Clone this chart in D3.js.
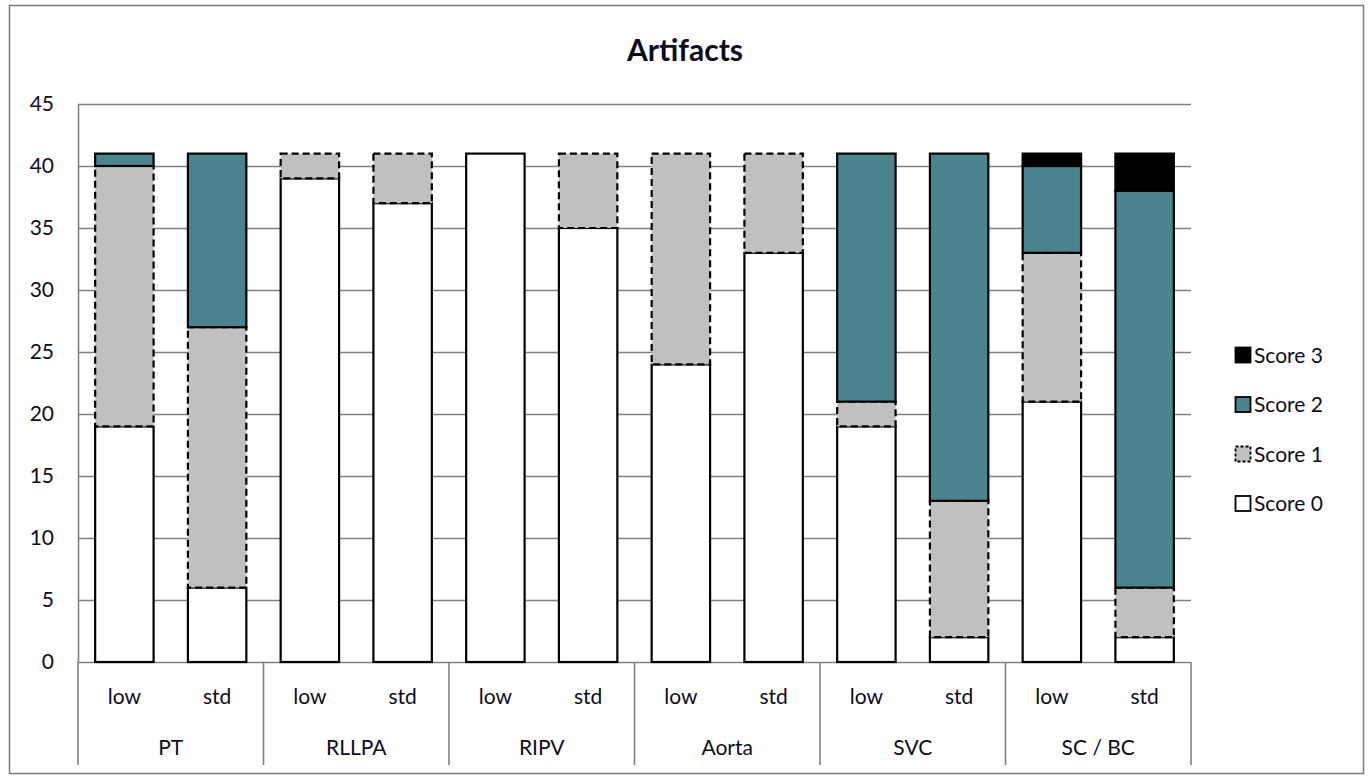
<!DOCTYPE html>
<html>
<head>
<meta charset="utf-8">
<script src="https://cdn.jsdelivr.net/npm/d3@7"></script>
<style>
  html, body { margin: 0; padding: 0; background: #fff; }
  svg { display: block; font-family: Lato, "Open Sans", sans-serif; }
</style>
</head>
<body>
<svg id="chart" width="1371" height="778"></svg>
<script>
// Regions and protocols (low dose vs. standard)
const groups = ["PT", "RLLPA", "RIPV", "Aorta", "SVC", "SC / BC"];
const protocols = ["low", "std"];
const seriesNames = ["Score 0", "Score 1", "Score 2", "Score 3"];

// Number of cases per artifact score, one entry per bar (group × protocol)
const score0 = [19, 6, 39, 37, 41, 35, 24, 33, 19, 2, 21, 2];
const score1 = [21, 21, 2, 4, 0, 6, 17, 8, 2, 11, 12, 4];
const score2 = [1, 14, 0, 0, 0, 0, 0, 0, 20, 28, 7, 32];
const score3 = [0, 0, 0, 0, 0, 0, 0, 0, 0, 0, 1, 3];

const yTicks = [0, 5, 10, 15, 20, 25, 30, 35, 40, 45];

const svg = d3.select("#chart");
const plot = { left: 78, right: 1191, top: 104, bottom: 662 };
const catBottom = 765;
const textColor = "#0d0d1a";
const gridColor = "#808080";

const styles = {
  "Score 0": { fill: "#ffffff", dash: null },
  "Score 1": { fill: "#c0c0c0", dash: "7,4" },
  "Score 2": { fill: "#4a848f", dash: null },
  "Score 3": { fill: "#000000", dash: null }
};

// Rows for the stack layout
const bars = [];
groups.forEach((g, gi) => protocols.forEach((p, pi) => {
  const i = gi * protocols.length + pi;
  bars.push({ key: g + "|" + p, group: g, protocol: p,
    "Score 0": score0[i], "Score 1": score1[i], "Score 2": score2[i], "Score 3": score3[i] });
}));

const x = d3.scaleBand()
  .domain(bars.map(d => d.key))
  .range([plot.left, plot.right])
  .paddingInner(0.37)
  .paddingOuter(0.185);

const y = d3.scaleLinear().domain([0, 45]).range([plot.bottom, plot.top]);

// Outer frame
svg.append("rect")
  .attr("x", 9.5).attr("y", 5.5)
  .attr("width", 1354).attr("height", 768)
  .attr("fill", "#fff").attr("stroke", "#7a7a7a").attr("stroke-width", 1.5);

// Title
svg.append("text")
  .attr("x", 685).attr("y", 61)
  .attr("text-anchor", "middle")
  .attr("font-size", 30).attr("font-weight", 700)
  .attr("fill", textColor)
  .text("Artifacts");

// Horizontal gridlines
svg.append("g")
  .selectAll("line")
  .data(yTicks)
  .join("line")
  .attr("x1", plot.left).attr("x2", plot.right)
  .attr("y1", d => Math.round(y(d)) + 0.5).attr("y2", d => Math.round(y(d)) + 0.5)
  .attr("stroke", gridColor).attr("stroke-width", 1.6);

// Value axis
const yAxis = svg.append("g")
  .attr("transform", `translate(${plot.left},0)`)
  .call(d3.axisLeft(y).tickValues(yTicks).tickSize(0).tickPadding(24));
yAxis.select(".domain").attr("stroke", gridColor).attr("stroke-width", 1.6);
yAxis.selectAll("text")
  .attr("font-size", 21).attr("fill", textColor)
  .attr("font-family", "Lato, 'Open Sans', sans-serif");

// Stacked bars
const stack = d3.stack().keys(seriesNames)(bars);
const layers = svg.append("g").selectAll("g")
  .data(stack)
  .join("g");

layers.selectAll("rect")
  .data(s => s.map(d => ({ key: s.key, d })).filter(e => e.d[1] - e.d[0] > 0))
  .join("rect")
  .attr("x", e => x(e.d.data.key))
  .attr("width", x.bandwidth())
  .attr("y", e => y(e.d[1]))
  .attr("height", e => y(e.d[0]) - y(e.d[1]))
  .attr("fill", e => styles[e.key].fill)
  .attr("stroke", "#000")
  .attr("stroke-width", 2.2)
  .attr("stroke-dasharray", e => styles[e.key].dash);

// Category axis: protocol labels, group labels, and group separators
const groupWidth = (plot.right - plot.left) / groups.length;

const sepX = d3.range(groups.length + 1).map(i => plot.left + i * groupWidth);
svg.append("g").selectAll("line")
  .data(sepX)
  .join("line")
  .attr("x1", d => d).attr("x2", d => d)
  .attr("y1", plot.bottom).attr("y2", catBottom)
  .attr("stroke", gridColor).attr("stroke-width", 1.6);

svg.append("g").selectAll("text")
  .data(bars)
  .join("text")
  .attr("x", d => x(d.key) + x.bandwidth() / 2)
  .attr("y", 704)
  .attr("text-anchor", "middle")
  .attr("font-size", 21).attr("fill", textColor)
  .text(d => d.protocol);

svg.append("g").selectAll("text")
  .data(groups)
  .join("text")
  .attr("x", (d, i) => plot.left + (i + 0.5) * groupWidth)
  .attr("y", 755)
  .attr("text-anchor", "middle")
  .attr("font-size", 21).attr("fill", textColor)
  .text(d => d);

// Legend (top-down: Score 3 … Score 0)
const legendItems = seriesNames.slice().reverse();
const legend = svg.append("g").selectAll("g")
  .data(legendItems)
  .join("g")
  .attr("transform", (d, i) => `translate(1235, ${355 + i * 49.5})`);

legend.append("rect")
  .attr("x", 0.5).attr("y", -7.5)
  .attr("width", 15).attr("height", 15)
  .attr("fill", d => styles[d].fill)
  .attr("stroke", "#000")
  .attr("stroke-width", 1.8)
  .attr("stroke-dasharray", d => styles[d].dash ? "3,2" : null);

legend.append("text")
  .attr("x", 19).attr("y", 7.5)
  .attr("font-size", 21).attr("fill", textColor)
  .text(d => d);
</script>
</body>
</html>
